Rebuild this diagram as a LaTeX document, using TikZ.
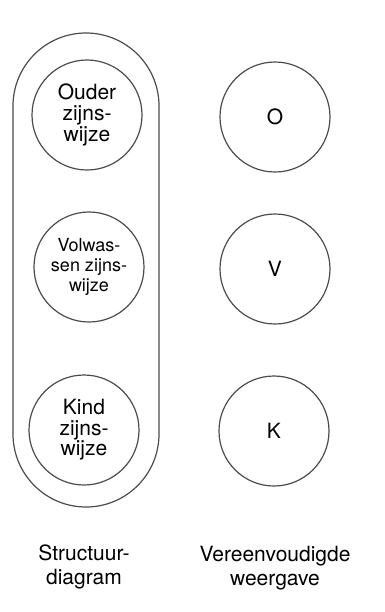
\documentclass[tikz,border=0pt]{standalone}
\usepackage{fontspec}
\setmainfont{TeX Gyre Heros}
\usepackage{xcolor}

\tikzset{
  zijn/.style={draw=black!70, circle, line width=0.6pt, minimum size=55pt, inner sep=0pt, font=\fontsize{10.5}{10.3}\selectfont},
  klein/.style={font=\fontsize{9}{10}\selectfont},
  onder/.style={font=\fontsize{10.5}{12}\selectfont}
}

\begin{document}
\begin{tikzpicture}[every text node part/.style={align=center}, x=0.5pt, y=-0.5pt]
  \useasboundingbox (0,0) rectangle (385,612);

  % Structuurdiagram
  \draw[black!70, line width=0.6pt, rounded corners=36.5pt] (13,33) rectangle (159,507);
  \node[zijn] (ouder) at (87,115) {Ouder\\zijns-\\wijze};
  \node[zijn, klein] (volw) at (89,267) {Volwas-\\sen zijns-\\wijze};
  \node[zijn] (kind) at (84,430) {Kind\\zijns-\\wijze};

  % Vereenvoudigde weergave
  \node[zijn] (o) at (275,117) {O};
  \node[zijn] (v) at (275,269) {V};
  \node[zijn] (k) at (274,431) {K};

  % Onderschriften
  \node[onder] (sd) at (84,567) {Structuur-\\diagram};
  \node[onder] (vw) at (275,568) {Vereenvoudigde\\weergave};

\end{tikzpicture}
\end{document}
